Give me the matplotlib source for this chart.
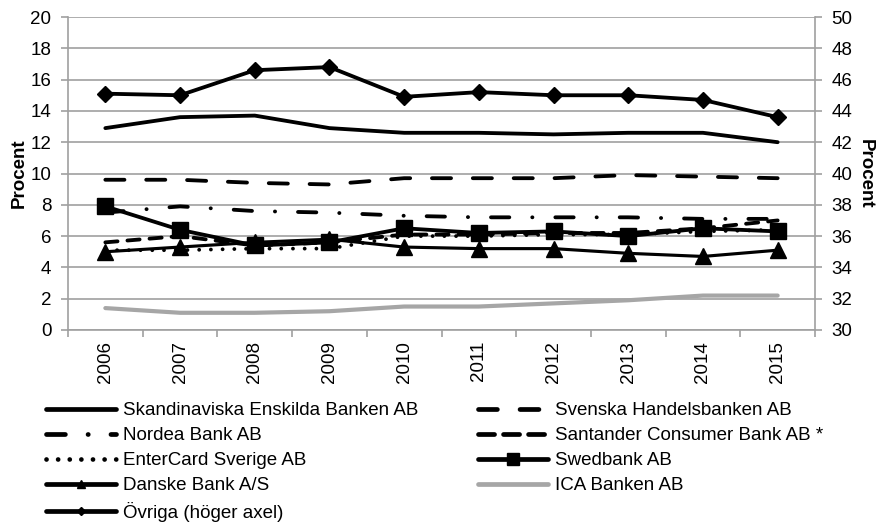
import matplotlib.pyplot as plt
from matplotlib.lines import Line2D

plt.rcParams['font.family'] = ['Liberation Sans', 'DejaVu Sans']
plt.rcParams['font.size'] = 13.5

years = ['2006', '2007', '2008', '2009', '2010', '2011', '2012', '2013', '2014', '2015']

# andel i procent, vänster axel
seb = [12.9, 13.6, 13.7, 12.9, 12.6, 12.6, 12.5, 12.6, 12.6, 12.0]
handelsbanken = [9.6, 9.6, 9.4, 9.3, 9.7, 9.7, 9.7, 9.9, 9.8, 9.7]
nordea = [7.5, 7.9, 7.6, 7.5, 7.3, 7.2, 7.2, 7.2, 7.1, 7.1]
santander = [5.6, 6.0, 5.4, 5.6, 6.1, 6.1, 6.2, 6.2, 6.5, 7.0]
entercard = [5.1, 5.1, 5.2, 5.2, 6.0, 6.0, 6.1, 6.1, 6.3, 6.4]
swedbank = [7.9, 6.4, 5.4, 5.6, 6.5, 6.2, 6.3, 6.0, 6.5, 6.3]
danske = [5.0, 5.3, 5.6, 5.8, 5.3, 5.2, 5.2, 4.9, 4.7, 5.1]
ica = [1.4, 1.1, 1.1, 1.2, 1.5, 1.5, 1.7, 1.9, 2.2, 2.2]
# höger axel
ovriga = [45.1, 45.0, 46.6, 46.8, 44.9, 45.2, 45.0, 45.0, 44.7, 43.6]

grey = '#a0a0a0'
lw = 2.75
x = [i + 0.5 for i in range(len(years))]

fig = plt.figure(figsize=(8.77, 5.23), dpi=100)
ax = fig.add_axes([68 / 877, 1 - 330 / 523, 747 / 877, 313 / 523])

ax.plot(x, seb, color='black', lw=lw, solid_capstyle='round')
ax.plot(x, handelsbanken, color='black', lw=lw, ls=(0, (5.0, 5.7)), dash_capstyle='round')
ax.plot(x, nordea, color='black', lw=lw, ls=(0, (4.8, 6.0, 0.05, 6.0)), dash_capstyle='round')
ax.plot(x, santander, color='black', lw=lw, ls=(0, (3.2, 2.6)), dash_capstyle='round')
ax.plot(x, entercard, color='black', lw=lw, ls=(0, (0.01, 3.06)), dash_capstyle='round')
ax.plot(x, swedbank, color='black', lw=lw, marker='s', ms=12, solid_capstyle='round')
ax.plot(x, danske, color='black', lw=2.25, marker='^', ms=12, solid_capstyle='round')
ax.plot(x, ica, color='#a6a6a6', lw=3, solid_capstyle='round')

ax.set_xlim(0, 10)
ax.set_ylim(0, 20)
ax.set_yticks(range(0, 21, 2))
ax.set_xticks(range(11))
ax.set_xticklabels([])
ax.set_xticks(x, minor=True)
ax.set_xticklabels(years, minor=True, rotation=90)
ax.tick_params(axis='x', which='major', length=5, color=grey, width=1.2)
ax.tick_params(axis='x', which='minor', length=0, pad=8)
ax.tick_params(axis='y', length=5, color=grey, width=1.2, pad=7)
ax.grid(axis='y', color=grey, lw=1.2)
ax.set_axisbelow(True)
for s in ['top', 'right']:
    ax.spines[s].set_visible(False)
for s in ['left', 'bottom']:
    ax.spines[s].set_color(grey)
    ax.spines[s].set_linewidth(1.2)
ax.set_ylabel('Procent', fontweight='bold', labelpad=2)

ax2 = ax.twinx()
ax2.plot(x, ovriga, color='black', lw=lw, marker='D', ms=8, solid_capstyle='round')
ax2.set_ylim(30, 50)
ax2.set_yticks(range(30, 51, 2))
ax2.tick_params(axis='y', length=5, color=grey, width=1.2, pad=7)
for s in ['top', 'left', 'bottom']:
    ax2.spines[s].set_visible(False)
ax2.spines['right'].set_color(grey)
ax2.spines['right'].set_linewidth(1.2)
ax2.set_ylabel('Procent', fontweight='bold', rotation=270, labelpad=15)

# legend, two columns placed by hand
def h(**kw):
    return Line2D([], [], color='black', lw=3.4, **kw)

col1 = [
    (h(solid_capstyle='round'), 'Skandinaviska Enskilda Banken AB'),
    (h(ls=(0, (4.0, 4.8, 0.05, 4.8)), dash_capstyle='round'), 'Nordea Bank AB'),
    (h(ls=(0, (0.01, 2.45)), dash_capstyle='round'), 'EnterCard Sverige AB'),
    (h(marker='^', ms=6, solid_capstyle='round'), 'Danske Bank A/S'),
    (h(marker='D', ms=4, solid_capstyle='round'), 'Övriga (höger axel)'),
]
col2 = [
    (h(ls=(0, (4.0, 4.8)), dash_capstyle='round'), 'Svenska Handelsbanken AB'),
    (h(ls=(0, (3.4, 1.9)), dash_capstyle='round'), 'Santander Consumer Bank AB *'),
    (h(marker='s', ms=8, solid_capstyle='round'), 'Swedbank AB'),
    (Line2D([], [], color='#a6a6a6', lw=3.4, solid_capstyle='round'), 'ICA Banken AB'),
]
for items, xpos in [(col1, 46 / 877), (col2, 478 / 877)]:
    fig.legend([i[0] for i in items], [i[1] for i in items], loc='upper left',
               bbox_to_anchor=(xpos, 1 - 402 / 523), frameon=False, borderpad=0,
               borderaxespad=0, handlelength=3.75, handletextpad=0.35,
               labelspacing=0.42, numpoints=1, fontsize=13.5)

fig.savefig('out.png', dpi=100)
